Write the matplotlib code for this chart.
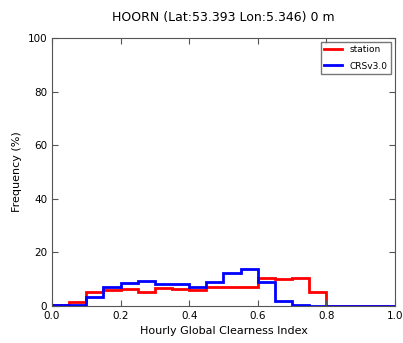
import numpy as np
import matplotlib
matplotlib.use('Agg')
import matplotlib.pyplot as plt

# bin edges (0.05 wide) and frequencies (%)
bin_edges = [0.0, 0.05, 0.1, 0.15, 0.2, 0.25, 0.3, 0.35, 0.4, 0.45, 0.5,
             0.55, 0.6, 0.65, 0.7, 0.75, 0.8, 0.85, 0.9, 0.95, 1.0]
station = [0.4, 1.6, 5.1, 6.0, 6.2, 5.3, 6.6, 6.3, 6.0, 7.2,
           7.0, 7.2, 10.3, 10.0, 10.3, 5.1, 0.0, 0.0, 0.0, 0.0]
crs = [0.2, 0.3, 3.2, 7.2, 8.5, 9.5, 8.2, 8.2, 7.0, 9.1,
       12.2, 13.8, 9.1, 1.9, 0.5, 0.0, 0.0, 0.0, 0.0, 0.0]

title = 'HOORN (Lat:53.393 Lon:5.346) 0 m'

fig = plt.figure(figsize=(4.03, 3.43), dpi=100)
ax = fig.add_axes([0.129, 0.108, 0.851, 0.781])

ax.stairs(station, bin_edges, color='red', linewidth=2, label='station')
ax.stairs(crs, bin_edges, color='blue', linewidth=2, label='CRSv3.0')

ax.set_xlim(0, 1)
ax.set_ylim(0, 100)
ax.set_xticks([0.0, 0.2, 0.4, 0.6, 0.8, 1.0])
ax.set_yticks([0, 20, 40, 60, 80, 100])
ax.tick_params(direction='in', top=True, right=True, labelsize=7.5, length=4, color='#555555')
for s in ax.spines.values():
    s.set_color('#555555')

ax.set_xlabel('Hourly Global Clearness Index', fontsize=8)
ax.set_ylabel('Frequency (%)', fontsize=8)
ax.set_title(title, fontsize=9, pad=12)

leg = ax.legend(loc='upper right', fontsize=6.5, fancybox=False, handlelength=2.0,
                labelspacing=0.8, borderaxespad=0.4)
leg.get_frame().set_edgecolor('#555555')

plt.savefig('out.png', dpi=100)
plt.close()
